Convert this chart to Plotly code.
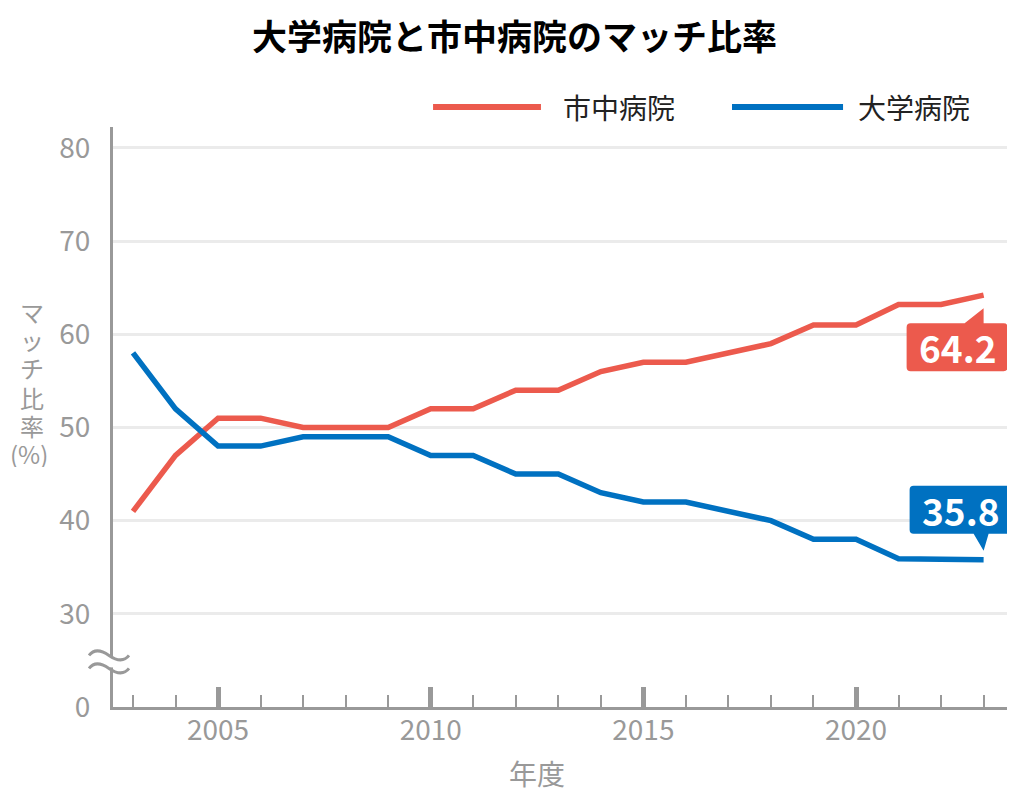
import plotly.graph_objects as go

# ---- data ----
years = list(range(2003, 2024))
shichu = [41, 47, 51, 51, 50, 50, 50, 52, 52, 54, 54, 56, 57, 57, 58, 59, 61, 61, 63.2, 63.2, 64.2]
daigaku = [58, 52, 48, 48, 49, 49, 49, 47, 47, 45, 45, 43, 42, 42, 41, 40, 38, 38, 35.9, 35.9, 35.8]
series_names = ["市中病院", "大学病院"]
y_tick_vals = [20, 30, 40, 50, 60, 70, 80]   # 20 on the broken axis stands for 0
y_tick_labels = ["0", "30", "40", "50", "60", "70", "80"]
x_tick_vals = [2005, 2010, 2015, 2020]
x_tick_labels = ["2005", "2010", "2015", "2020"]
title_text = "大学病院と市中病院のマッチ比率"
x_title = "年度"
y_title_parts = ["マ", "ッ", "チ", "比", "率", "(%)"]

RED = "#EC5A4D"
BLUE = "#0071C1"
GRAY = "#999999"
FONT = "Noto Sans CJK JP"

# plot-area geometry in pixels (for placing decorative texts)
PLOT_L, PLOT_W, PLOT_B, PLOT_H = 113, 894, 707, 580

fig = go.Figure()
fig.add_trace(go.Scatter(x=years, y=shichu, name=series_names[0], mode="lines",
                         line=dict(color=RED, width=5.5), showlegend=False))
fig.add_trace(go.Scatter(x=years, y=daigaku, name=series_names[1], mode="lines",
                         line=dict(color=BLUE, width=5.5), showlegend=False))

shapes = []
annotations = []

# callout for last red value (box below the point)
L, R, T, B, r = -77, 24, -28, -76, 4
red_path = (f"M {L+r},{T} L -19,{T} L 0,-13 L 0,{T} L {R-r},{T} Q {R},{T} {R},{T-r} "
            f"L {R},{B+r} Q {R},{B} {R-r},{B} L {L+r},{B} Q {L},{B} {L},{B+r} "
            f"L {L},{T-r} Q {L},{T} {L+r},{T} Z")
shapes.append(dict(type="path", xref="x", yref="y", xsizemode="pixel", ysizemode="pixel",
                   xanchor=years[-1], yanchor=shichu[-1], path=red_path,
                   fillcolor=RED, line=dict(width=0), layer="above"))
annotations.append(dict(x=years[-1], y=shichu[-1], xref="x", yref="y", showarrow=False,
                        xanchor="center", yanchor="middle",
                        text=f"<b>{shichu[-1]}</b>", xshift=-26, yshift=-52,
                        font=dict(family=FONT, size=37, color="white")))

# callout for last blue value (box above the point)
L, R, T, B = -74, 28, 74, 26
blue_path = (f"M {L+r},{T} L {R-r},{T} Q {R},{T} {R},{T-r} L {R},{B+r} Q {R},{B} {R-r},{B} "
             f"L 5,{B} L 0,9 L -10,{B} L {L+r},{B} Q {L},{B} {L},{B+r} "
             f"L {L},{T-r} Q {L},{T} {L+r},{T} Z")
shapes.append(dict(type="path", xref="x", yref="y", xsizemode="pixel", ysizemode="pixel",
                   xanchor=years[-1], yanchor=daigaku[-1], path=blue_path,
                   fillcolor=BLUE, line=dict(width=0), layer="above"))
annotations.append(dict(x=years[-1], y=daigaku[-1], xref="x", yref="y", showarrow=False,
                        xanchor="center", yanchor="middle",
                        text=f"<b>{daigaku[-1]}</b>", xshift=-23, yshift=50,
                        font=dict(family=FONT, size=37, color="white")))

# axis break marks on the y axis
shapes.append(dict(type="rect", xref="paper", yref="y", xsizemode="pixel", ysizemode="pixel",
                   xanchor=0, yanchor=25, x0=-4, x1=4, y0=-7, y1=3,
                   fillcolor="white", line=dict(width=0), layer="above"))
for off in (5, -8):
    shapes.append(dict(type="path", xref="paper", yref="y", xsizemode="pixel", ysizemode="pixel",
                       xanchor=0, yanchor=25,
                       path=f"M -24,{off} Q -17,{off+9} -4,{off} Q 9,{off-9} 16,{off}",
                       line=dict(color=GRAY, width=3), layer="above"))

# manual legend
leg_y = 1.0345
for x0, x1, col in ((0.358, 0.4787, RED), (0.6924, 0.8166, BLUE)):
    shapes.append(dict(type="line", xref="paper", yref="paper", x0=x0, x1=x1, y0=leg_y, y1=leg_y,
                       line=dict(color=col, width=6)))
for xp, name in ((0.5011, series_names[0]), (0.8311, series_names[1])):
    annotations.append(dict(x=xp, y=leg_y, xref="paper", yref="paper", showarrow=False,
                            xanchor="left", yanchor="middle", text=name,
                            font=dict(family=FONT, size=28, color="#222222")))

# axis titles
annotations.append(dict(x=0.474, y=-0.114, xref="paper", yref="paper", showarrow=False,
                        xanchor="center", yanchor="middle",
                        text=x_title, font=dict(family=FONT, size=28, color=GRAY)))
y_title_px = [311, 339, 367, 397, 425, 453]
for part, py in zip(y_title_parts, y_title_px):
    px = 29 if part == "(%)" else 32
    annotations.append(dict(x=(px - PLOT_L) / PLOT_W, y=(PLOT_B - py) / PLOT_H,
                            xref="paper", yref="paper", showarrow=False,
                            xanchor="center", yanchor="middle", text=part,
                            height=27, valign="middle",
                            font=dict(family=FONT, size=24, color=GRAY)))

fig.update_layout(
    width=1029, height=810,
    margin=dict(l=113, r=22, t=127, b=103),
    paper_bgcolor="white", plot_bgcolor="white",
    title=dict(text=f"<b>{title_text}</b>", x=0.5, xanchor="center", y=0.954, yanchor="middle",
               font=dict(family=FONT, size=35, color="black")),
    shapes=shapes, annotations=annotations,
    font=dict(family=FONT),
)
fig.update_xaxes(range=[2002.53, 2023.55], tickvals=x_tick_vals, ticktext=x_tick_labels,
                 showgrid=False, zeroline=False, showline=True, linecolor=GRAY, linewidth=3,
                 ticks="inside", ticklen=20, tickwidth=5, tickcolor=GRAY,
                 ticklabelstandoff=-4,
                 tickfont=dict(family=FONT, size=28, color=GRAY),
                 minor=dict(ticks="inside", ticklen=12, tickwidth=2, tickcolor=GRAY,
                            dtick=1, tick0=2003, showgrid=False))
fig.update_yaxes(range=[20, 82.25], tickvals=y_tick_vals, ticktext=y_tick_labels,
                 showgrid=True, gridcolor="#EBEBEB", gridwidth=2.5, zeroline=False,
                 showline=True, linecolor=GRAY, linewidth=3, ticks="",
                 ticklabelstandoff=14,
                 tickfont=dict(family=FONT, size=28, color=GRAY))

fig.write_html("out.html", config={"displayModeBar": False},
               post_script="document.body.style.margin='0';")
